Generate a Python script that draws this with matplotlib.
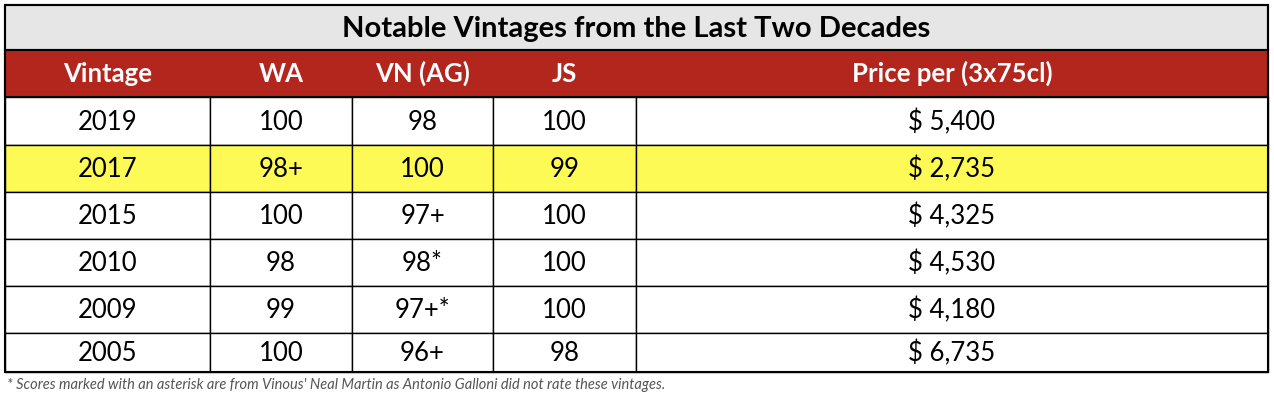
import matplotlib.pyplot as plt
from matplotlib.patches import Rectangle

title = "Notable Vintages from the Last Two Decades"
headers = ["Vintage", "WA", "VN (AG)", "JS", "Price per (3x75cl)"]
vintages = ["2019", "2017", "2015", "2010", "2009", "2005"]
wa = ["100", "98+", "100", "98", "99", "100"]
vn = ["98", "100", "97+", "98*", "97+*", "96+"]
js = ["100", "99", "100", "100", "100", "98"]
price = ["$ 5,400", "$ 2,735", "$ 4,325", "$ 4,530", "$ 4,180", "$ 6,735"]
highlight = [False, True, False, False, False, False]
footnote = "* Scores marked with an asterisk are from Vinous' Neal Martin as Antonio Galloni did not rate these vintages."

col_x = [5, 210, 352, 493, 636, 1268]
row_y = [5, 50, 97, 145, 192, 239, 286, 333, 372]

plt.rcParams['font.family'] = ['Lato', 'DejaVu Sans']
fig = plt.figure(figsize=(12.74, 4.04), dpi=100)
ax = fig.add_axes([0, 0, 1, 1])
ax.set_xlim(0, 1274)
ax.set_ylim(404, 0)
ax.axis('off')

L, R = col_x[0], col_x[-1]
# title row
ax.add_patch(Rectangle((L, row_y[0]), R - L, row_y[1] - row_y[0], facecolor='#e7e6e6', edgecolor='black', lw=1.5))
ax.text((L + R) / 2, (row_y[0] + row_y[1]) / 2 + 1, title, ha='center', va='center', fontsize=21, fontweight='bold')
# header row
ax.add_patch(Rectangle((L, row_y[1]), R - L, row_y[2] - row_y[1], facecolor='#b3261e', edgecolor='black', lw=1.5))
for i, h in enumerate(headers):
    ax.text((col_x[i] + col_x[i + 1]) / 2, (row_y[1] + row_y[2]) / 2, h, ha='center', va='center',
            fontsize=18.5, fontweight='bold', color='white')

rows = list(zip(vintages, wa, vn, js, price))
for r, vals in enumerate(rows):
    y0, y1 = row_y[r + 2], row_y[r + 3]
    fc = '#fdfa55' if highlight[r] else 'white'
    for c, v in enumerate(vals):
        ax.add_patch(Rectangle((col_x[c], y0), col_x[c + 1] - col_x[c], y1 - y0, facecolor=fc, edgecolor='black', lw=1))
        ax.text((col_x[c] + col_x[c + 1]) / 2, (y0 + y1) / 2 + 1, v, ha='center', va='center', fontsize=18.5)

ax.add_patch(Rectangle((L, row_y[0]), R - L, row_y[-1] - row_y[0], fill=False, edgecolor='black', lw=1.5))
ax.text(L + 2, 385, footnote, ha='left', va='center', fontsize=10.5, style='italic', color='#555555')

fig.savefig('out.png', dpi=100)
